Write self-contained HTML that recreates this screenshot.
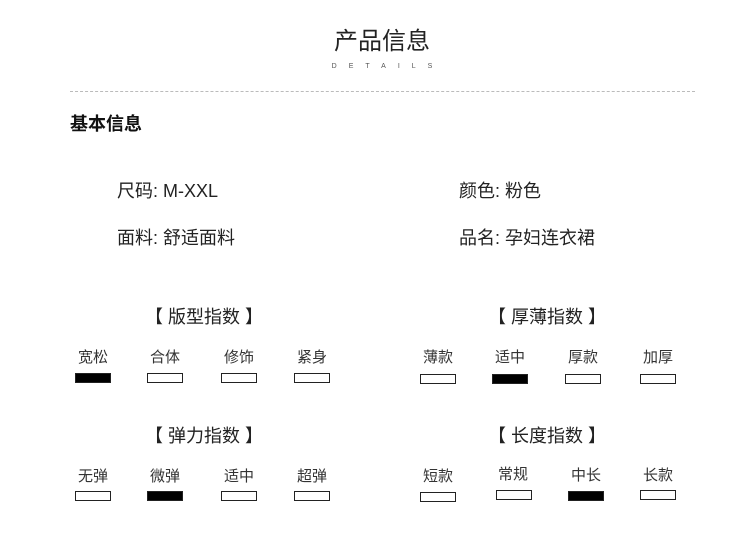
<!DOCTYPE html>
<html><head><meta charset="utf-8"><style>
body{margin:0;width:750px;height:557px;background:#fff;position:relative;overflow:hidden;font-family:"Liberation Sans","Noto Sans CJK SC",sans-serif;color:#111}
.a{position:absolute;white-space:nowrap;line-height:1}
.c{transform:translateX(-50%)}
.b{position:absolute;width:34px;height:8px;border:1px solid #222;background:#fff}
.f{background:#000}
.l{font-size:15px;color:#333}
.h{font-size:18px;color:#222}
.t{font-size:18px;color:#222}
</style></head><body>
<div class="a c" style="left:382px;top:30px;font-size:24px;color:#222">产品信息</div>
<div class="a c" style="left:382px;top:63px;font-size:7px;letter-spacing:12px;color:#555;padding-left:12px">DETAILS</div>
<div class="a" style="left:70px;top:91px;width:625px;border-top:1px dashed #bbb"></div>
<div class="a" style="left:70px;top:115px;font-size:18px;font-weight:bold">基本信息</div>
<div class="a t" style="left:117px;top:182px">尺码: M-XXL</div>
<div class="a t" style="left:459px;top:182px">颜色: 粉色</div>
<div class="a t" style="left:117px;top:229px">面料: 舒适面料</div>
<div class="a t" style="left:459px;top:229px">品名: 孕妇连衣裙</div>

<div class="a c h" style="left:204px;top:308px">【 版型指数 】</div>
<div class="a c h" style="left:547px;top:308px">【 厚薄指数 】</div>
<div class="a c h" style="left:204px;top:427px">【 弹力指数 】</div>
<div class="a c h" style="left:547px;top:427px">【 长度指数 】</div>

<div class="a c l" style="left:93px;top:350px">宽松</div><div class="b f" style="left:75px;top:373px"></div>
<div class="a c l" style="left:165px;top:350px">合体</div><div class="b" style="left:147px;top:373px"></div>
<div class="a c l" style="left:239px;top:350px">修饰</div><div class="b" style="left:221px;top:373px"></div>
<div class="a c l" style="left:312px;top:350px">紧身</div><div class="b" style="left:294px;top:373px"></div>

<div class="a c l" style="left:438px;top:350px">薄款</div><div class="b" style="left:420px;top:374px"></div>
<div class="a c l" style="left:510px;top:350px">适中</div><div class="b f" style="left:492px;top:374px"></div>
<div class="a c l" style="left:583px;top:350px">厚款</div><div class="b" style="left:565px;top:374px"></div>
<div class="a c l" style="left:658px;top:350px">加厚</div><div class="b" style="left:640px;top:374px"></div>

<div class="a c l" style="left:93px;top:469px">无弹</div><div class="b" style="left:75px;top:491px"></div>
<div class="a c l" style="left:165px;top:469px">微弹</div><div class="b f" style="left:147px;top:491px"></div>
<div class="a c l" style="left:239px;top:469px">适中</div><div class="b" style="left:221px;top:491px"></div>
<div class="a c l" style="left:312px;top:469px">超弹</div><div class="b" style="left:294px;top:491px"></div>

<div class="a c l" style="left:438px;top:469px">短款</div><div class="b" style="left:420px;top:492px"></div>
<div class="a c l" style="left:513px;top:467px">常规</div><div class="b" style="left:496px;top:490px"></div>
<div class="a c l" style="left:586px;top:468px">中长</div><div class="b f" style="left:568px;top:491px"></div>
<div class="a c l" style="left:658px;top:468px">长款</div><div class="b" style="left:640px;top:490px"></div>
</body></html>
